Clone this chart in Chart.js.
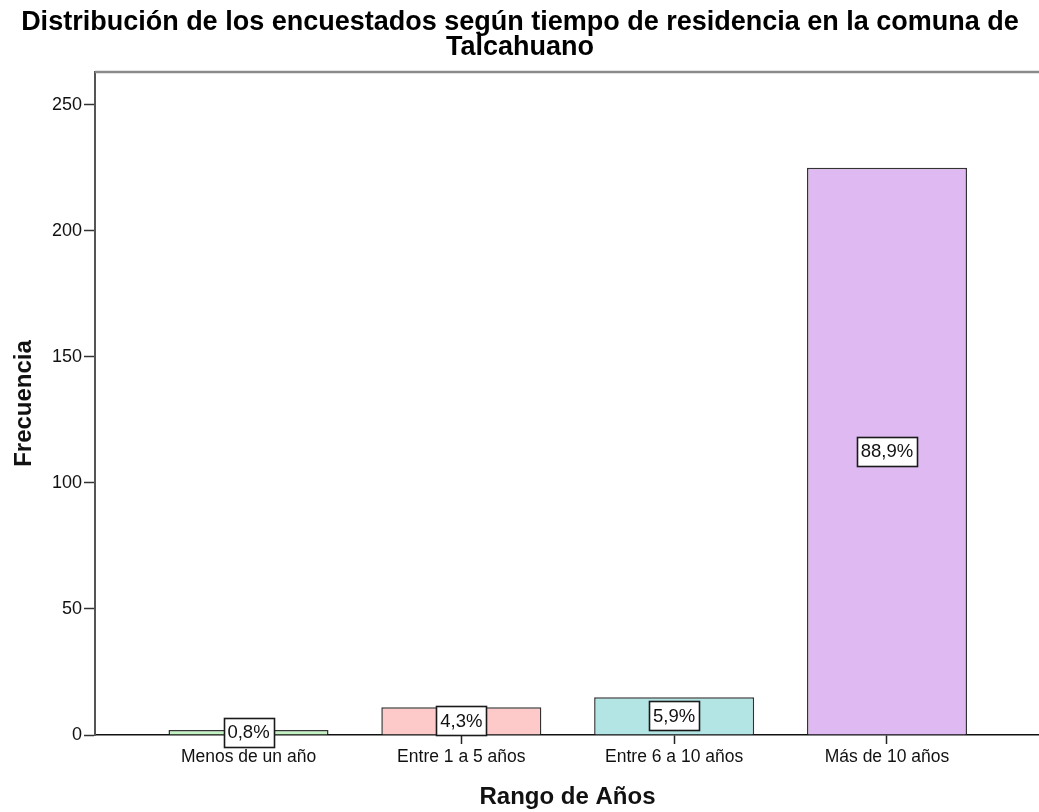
<!DOCTYPE html>
<html>
<head>
<meta charset="utf-8">
<script src="https://cdn.jsdelivr.net/npm/chart.js@4/dist/chart.umd.min.js"></script>
<style>
html,body{margin:0;padding:0;background:#fff;overflow:hidden;}
#wrap{position:relative;width:1046px;height:812px;}
</style>
</head>
<body>
<div id="wrap"><canvas id="c" width="1046" height="812"></canvas></div>
<script>
const categories = ["Menos de un año", "Entre 1 a 5 años", "Entre 6 a 10 años", "Más de 10 años"];
const frequencies = [2, 11, 15, 225];
const percentLabels = ["0,8%", "4,3%", "5,9%", "88,9%"];
const barColors = ["#c2f2c2", "#fdc9c9", "#b3e5e5", "#dfb9f1"];
const yTicks = [0, 50, 100, 150, 200, 250];

const FONT = "'Liberation Sans', Arial, sans-serif";

const labelBoxes = {
  id: 'labelBoxes',
  afterDatasetsDraw(chart) {
    const ctx = chart.ctx;
    const meta = chart.getDatasetMeta(0);
    ctx.save();
    ctx.font = "18.5px " + FONT;
    ctx.textAlign = 'center';
    ctx.textBaseline = 'middle';
    meta.data.forEach((bar, i) => {
      const cx = bar.x;
      const cy = (bar.y + bar.base) / 2;
      const txt = percentLabels[i];
      const w = Math.round(ctx.measureText(txt).width + 8);
      const h = 29;
      const x0 = Math.round(cx - w / 2) + 0.5, y0 = Math.round(cy - h / 2) + 0.5;
      ctx.fillStyle = '#fff';
      ctx.fillRect(x0, y0, w, h);
      ctx.strokeStyle = '#1a1a1a';
      ctx.lineWidth = 1.6;
      ctx.strokeRect(x0, y0, w, h);
      ctx.fillStyle = '#111';
      ctx.fillText(txt, cx, cy + 1);
    });
    ctx.restore();
  }
};

const frameTop = {
  id: 'frameTop',
  beforeDatasetsDraw(chart) {
    const a = chart.chartArea;
    const ctx = chart.ctx;
    ctx.save();
    ctx.strokeStyle = '#8a8a8a';
    ctx.lineWidth = 2.5;
    ctx.beginPath();
    ctx.moveTo(a.left, a.top);
    ctx.lineTo(a.right + 10, a.top);
    ctx.stroke();
    ctx.restore();
  }
};

new Chart(document.getElementById('c'), {
  type: 'bar',
  data: {
    datasets: [{
      data: frequencies.map((v, i) => ({ x: i, y: v })),
      backgroundColor: barColors,
      borderColor: '#333',
      borderWidth: 1.5,
      barPercentage: 0.752,
      categoryPercentage: 1.0
    }]
  },
  options: {
    responsive: false,
    animation: false,
    layout: { padding: { left: 0, right: 6, top: 0, bottom: 0 } },
    plugins: {
      legend: { display: false },
      tooltip: { enabled: false },
      title: {
        display: true,
        text: ["Distribución de los encuestados según tiempo de residencia en la comuna de", "Talcahuano"],
        color: '#000',
        font: { family: FONT, size: 27, weight: 'bold', lineHeight: 0.93 },
        padding: { top: 10, bottom: 11.8 }
      }
    },
    scales: {
      x: {
        type: 'linear',
        offset: false,
        min: -0.7213,
        max: 3.719,
        afterBuildTicks(scale) { scale.ticks = categories.map((c, i) => ({ value: i })); },
        afterFit(scale) { scale.height = 77; },
        ticks: {
          callback: (v) => categories[v],
          color: '#111',
          font: { family: FONT, size: 17.5 },
          padding: 3,
          maxRotation: 0,
          autoSkip: false
        },
        grid: { offset: false, drawOnChartArea: false, drawTicks: true, tickLength: 9, color: '#222', tickWidth: 1.5 },
        border: { color: '#111', width: 1.5 },
        title: {
          display: true,
          text: 'Rango de Años',
          color: '#111',
          font: { family: FONT, size: 24, weight: 'bold', lineHeight: 1 },
          padding: { top: 3, bottom: 3 }
        }
      },
      y: {
        min: 0,
        max: 263,
        afterBuildTicks(scale) { scale.ticks = yTicks.map(v => ({ value: v })); },
        afterFit(scale) { scale.width = 95; },
        ticks: {
          color: '#111',
          font: { family: FONT, size: 18 },
          padding: 2
        },
        grid: { drawOnChartArea: false, drawTicks: true, tickLength: 11, color: '#333', tickWidth: 1.5 },
        border: { color: '#555', width: 2 },
        title: {
          display: true,
          text: 'Frecuencia',
          color: '#111',
          font: { family: FONT, size: 24, weight: 'bold', lineHeight: 1 },
          padding: { top: 12, bottom: 12 }
        }
      }
    }
  },
  plugins: [frameTop, labelBoxes]
});
</script>
</body>
</html>
